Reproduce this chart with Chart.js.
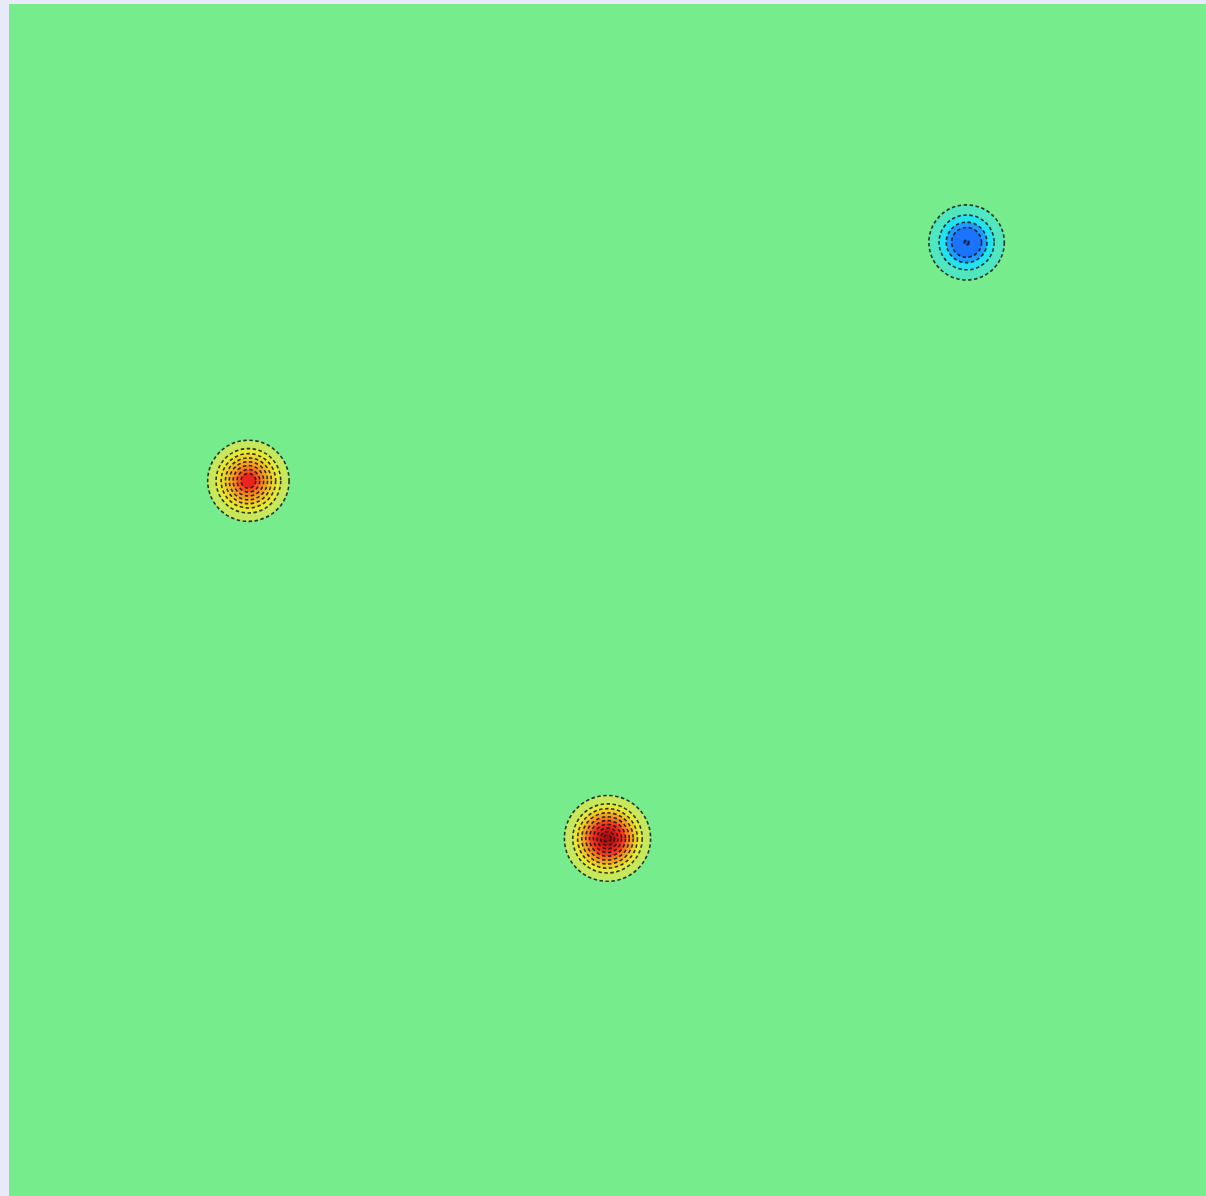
<!DOCTYPE html>
<html>
<head>
<meta charset="utf-8">
<script src="https://cdn.jsdelivr.net/npm/chart.js@4"></script>
<style>
  html, body { margin: 0; padding: 0; background: #e8eafa; overflow: hidden; }
  #wrap { width: 1206px; height: 1196px; position: relative; }
</style>
</head>
<body>
<div id="wrap"><canvas id="c"></canvas></div>
<script>
// Field extent
const xRange = [0, 10];
const yRange = [0, 10];

// Peak centres and signs (negative = trough)
const peakX = [8, 2, 5];
const peakY = [8, 6, 3];
const peakSign = [-1, 1, 1];

// Contour rings per peak, outermost first (distance from centre, data units)
const ringRadii = [
  [0.315, 0.23, 0.17, 0.125, 0.02],
  [0.34, 0.27, 0.228, 0.192, 0.16, 0.128, 0.095, 0.062],
  [0.36, 0.29, 0.25, 0.215, 0.182, 0.15, 0.118, 0.088, 0.058, 0.03]
];
// Band levels inside each ring (0 = background, ±1 = extreme)
const ringLevels = [
  [-0.2, -0.4, -0.6, -0.75, -0.95],
  [0.2, 0.35, 0.45, 0.55, 0.62, 0.7, 0.8, 0.9],
  [0.2, 0.35, 0.5, 0.62, 0.72, 0.84, 0.9, 0.95, 0.98, 1.0]
];

// Colour scale stops: level -> colour
const scaleStops = [
  [-1.0, [13, 70, 200]],
  [-0.75, [26, 116, 255]],
  [-0.6, [30, 156, 255]],
  [-0.4, [34, 226, 240]],
  [-0.2, [80, 230, 192]],
  [0.0, [119, 236, 141]],
  [0.2, [200, 232, 92]],
  [0.35, [230, 232, 56]],
  [0.45, [236, 216, 40]],
  [0.55, [240, 192, 32]],
  [0.62, [244, 160, 32]],
  [0.7, [244, 128, 32]],
  [0.8, [244, 80, 32]],
  [0.9, [236, 36, 30]],
  [0.97, [196, 20, 20]],
  [1.0, [170, 16, 16]]
];

function levelColor(v) {
  for (let i = 1; i < scaleStops.length; i++) {
    const [v1, c1] = scaleStops[i];
    const [v0, c0] = scaleStops[i - 1];
    if (v <= v1) {
      const t = (v - v0) / (v1 - v0);
      const c = c0.map((a, k) => Math.round(a + (c1[k] - a) * t));
      return `rgb(${c[0]},${c[1]},${c[2]})`;
    }
  }
  const c = scaleStops[scaleStops.length - 1][1];
  return `rgb(${c[0]},${c[1]},${c[2]})`;
}

// Paints the background level and the contour bands through the chart scales
const contourPlugin = {
  id: 'contour',
  beforeDatasetsDraw(chart) {
    const { ctx, chartArea: a, scales: { x, y } } = chart;
    ctx.save();
    ctx.beginPath();
    ctx.rect(a.left, a.top, a.right - a.left, a.bottom - a.top);
    ctx.clip();
    ctx.fillStyle = levelColor(0);
    ctx.fillRect(a.left, a.top, a.right - a.left, a.bottom - a.top);
    ctx.filter = 'blur(0.5px)';
    peakX.forEach((cx, p) => {
      const px = x.getPixelForValue(cx);
      const py = y.getPixelForValue(peakY[p]);
      ringRadii[p].forEach((r, i) => {
        const rx = Math.abs(x.getPixelForValue(cx + r) - px);
        const ry = Math.abs(y.getPixelForValue(peakY[p] + r) - py);
        ctx.beginPath();
        ctx.ellipse(px, py, rx, ry, 0, 0, Math.PI * 2);
        ctx.fillStyle = levelColor(ringLevels[p][i]);
        ctx.fill();
        ctx.setLineDash([3.5, 2.5]);
        ctx.lineWidth = 1.6;
        ctx.strokeStyle = 'rgba(20,20,20,0.85)';
        ctx.stroke();
      });
    });
    ctx.restore();
  }
};

new Chart(document.getElementById('c'), {
  type: 'scatter',
  data: {
    datasets: [{
      label: 'peaks',
      data: peakX.map((v, i) => ({ x: v, y: peakY[i] })),
      pointRadius: 0,
      pointHoverRadius: 0
    }]
  },
  options: {
    responsive: true,
    maintainAspectRatio: false,
    animation: false,
    events: [],
    layout: { padding: { left: 9, top: 4, right: 0, bottom: 0 } },
    plugins: { legend: { display: false }, tooltip: { enabled: false } },
    scales: {
      x: { type: 'linear', min: xRange[0], max: xRange[1], display: false },
      y: { type: 'linear', min: yRange[0], max: yRange[1], display: false }
    }
  },
  plugins: [contourPlugin]
});
</script>
</body>
</html>
